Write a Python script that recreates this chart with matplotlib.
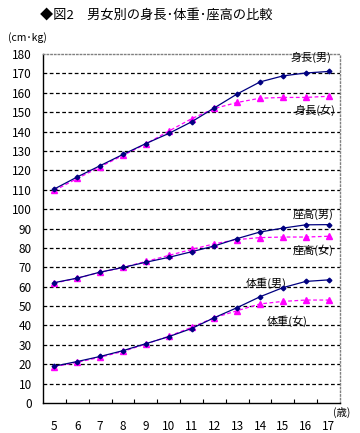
import matplotlib.pyplot as plt
import numpy as np

plt.rcParams['font.family'] = ['Noto Sans CJK JP', 'DejaVu Sans']

ages = ['5', '6', '7', '8', '9', '10', '11', '12', '13', '14', '15', '16', '17']
height_m = [110.4, 116.6, 122.4, 128.2, 133.8, 139.0, 145.0, 152.2, 159.4, 165.6, 168.7, 170.2, 171.0]
height_f = [109.6, 115.8, 121.8, 127.7, 133.6, 140.2, 146.6, 151.9, 155.0, 157.2, 157.6, 157.6, 158.2]
sit_m = [62.1, 64.4, 67.5, 69.9, 72.6, 75.1, 78.0, 81.0, 84.8, 88.2, 90.2, 91.9, 92.0]
sit_f = [61.8, 64.4, 67.4, 69.9, 73.0, 76.1, 79.2, 82.1, 84.3, 85.3, 85.6, 85.6, 86.0]
weight_m = [19.0, 21.4, 24.0, 27.0, 30.6, 34.2, 38.4, 44.0, 49.2, 54.8, 59.5, 62.7, 63.5]
weight_f = [18.7, 21.0, 23.6, 26.6, 30.4, 34.4, 39.0, 44.0, 47.6, 51.1, 52.4, 53.1, 53.1]

male_color = '#000080'
female_color = '#FF00FF'

fig = plt.figure(figsize=(3.6, 4.33), dpi=100)
ax = fig.add_axes([43 / 360, 1 - 403 / 433, 297 / 360, 349 / 433])

x = np.arange(len(ages))
for ym, yf in [(height_m, height_f), (sit_m, sit_f), (weight_m, weight_f)]:
    ax.plot(x, yf, color=female_color, ls=(0, (3, 2)), lw=0.9, marker='^', ms=4,
            mec=female_color, zorder=3)
    ax.plot(x, ym, color=male_color, lw=0.9, marker='D', ms=2.4, zorder=4)

ax.set_xlim(-0.5, len(ages) - 0.5)
ax.set_ylim(0, 180)
ax.set_yticks(range(0, 181, 10))
ax.set_xticks(x)
ax.set_xticklabels(ages)
ax.set_xticks(np.arange(0.5, len(ages) - 1, 1), minor=True)
ax.tick_params(axis='x', which='major', length=0, pad=12, labelsize=8.5)
ax.tick_params(axis='x', which='minor', direction='in', length=3, width=0.8)
ax.tick_params(axis='y', length=0, pad=8, labelsize=8.5)

for v in range(10, 180, 10):
    ax.axhline(v, color='black', ls=(0, (3, 2)), lw=0.9, zorder=1)

for s in ['top', 'right']:
    ax.spines[s].set_color('#808080')
    ax.spines[s].set_linestyle(':')
    ax.spines[s].set_linewidth(1)
ax.spines['left'].set_linewidth(1)
ax.spines['bottom'].set_linewidth(1)

fs = 8
ax.text(12.1, 178, '身長(男)', ha='right', va='center', fontsize=fs)
ax.text(12.3, 151, '身長(女)', ha='right', va='center', fontsize=fs)
ax.text(12.2, 97.3, '座高(男)', ha='right', va='center', fontsize=fs)
ax.text(12.2, 78.8, '座高(女)', ha='right', va='center', fontsize=fs)
ax.text(10.15, 61.6, '体重(男)', ha='right', va='center', fontsize=fs)
ax.text(11.1, 42.2, '体重(女)', ha='right', va='center', fontsize=fs)

fig.text(40 / 360, 1 - 15 / 433, '◆図2\u3000男女別の身長･体重･座高の比較', fontsize=9.5, va='center')
fig.text(8 / 360, 1 - 38 / 433, '(cm･kg)', fontsize=7.5, va='center')
fig.text(333 / 360, 1 - 412 / 433, '(歳)', fontsize=7.5, va='center')

fig.savefig('out.png', dpi=100)
